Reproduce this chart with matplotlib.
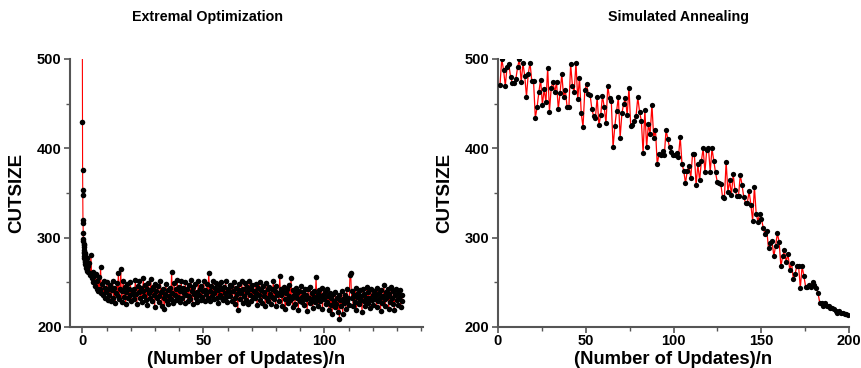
import numpy as np
import matplotlib
matplotlib.use("Agg")
import matplotlib.pyplot as plt
from matplotlib.ticker import MultipleLocator

plt.rcParams['font.family'] = ['Liberation Sans', 'DejaVu Sans']
plt.rcParams['font.weight'] = 'bold'

# ---------------- Data ----------------
# Extremal Optimization: early rapid descent (fine sampling, step 0.05)
eo_early = [520, 430, 376, 353, 348, 320, 316, 305, 298, 296, 293,
            289, 283, 292, 280, 286, 277, 284, 279, 273, 282,
            276, 280, 271, 278, 274, 283, 270, 276, 268, 275,
            272, 266, 274, 269, 277, 265, 271, 268, 263, 270]
eo_early_step = 0.05

# Extremal Optimization: main phase (step 1/3, starting at x=2.2)
eo_main = [
    268, 262, 272, 258, 281, 255, 262, 250, 257, 246, 259, 243, 252, 240, 256,
    243, 267, 238, 248, 236, 251, 233, 244, 239, 250, 230, 242,
    # x 11-20
    236, 247, 229, 241, 252, 233, 244, 227, 238, 249,
    235, 260, 231, 243, 265, 228, 240, 251, 234, 245,
    226, 239, 248, 232, 243, 236, 250, 229, 241, 237,
    # x 21-30
    242, 231, 253, 237, 226, 246, 239, 251, 232, 244,
    228, 240, 255, 235, 247, 230, 242, 225, 249, 238,
    233, 254, 241, 229, 245, 236, 222, 248, 240, 232,
    # x 31-40
    246, 235, 228, 251, 239, 224, 243, 232, 220, 237,
    248, 229, 241, 226, 235, 244, 231, 262, 238, 227,
    249, 236, 242, 230, 253, 234, 245, 228, 240, 251,
    # x 41-50
    233, 244, 238, 227, 250, 236, 242, 229, 247, 235,
    231, 253, 240, 226, 245, 237, 248, 232, 239, 228,
    251, 236, 243, 230, 246, 234, 240, 252, 229, 241,
    # x 51-60
    237, 248, 232, 261, 240, 229, 246, 235, 252, 238,
    231, 244, 249, 233, 241, 227, 247, 236, 250, 232,
    242, 230, 245, 238, 251, 234, 228, 243, 239, 247,
    # x 61-70
    235, 246, 229, 240, 250, 233, 226, 244, 237, 219,
    241, 248, 231, 238, 252, 227, 243, 235, 249, 230,
    239, 245, 226, 251, 236, 242, 229, 247, 234, 240,
    # x 71-80
    232, 248, 238, 225, 244, 236, 250, 230, 241, 227,
    246, 235, 239, 224, 249, 233, 242, 229, 245, 237,
    226, 243, 234, 251, 231, 240, 223, 246, 236, 238,
    # x 81-90
    229, 257, 236, 242, 224, 239, 245, 231, 220, 238,
    243, 227, 235, 247, 230, 255, 233, 222, 241, 236,
    226, 244, 232, 238, 219, 240, 229, 246, 234, 228,
    # x 91-100
    239, 225, 243, 231, 236, 218, 242, 233, 227, 245,
    230, 238, 221, 240, 234, 228, 256, 232, 237, 223,
    241, 229, 235, 244, 220, 236, 231, 239, 226, 242,
    # x 101-110
    228, 235, 219, 238, 225, 232, 214, 237, 229, 222,
    239, 226, 233, 217, 236, 209, 230, 224, 240, 215,
    231, 227, 236, 220, 242, 229, 233, 225, 258, 261,
    # x 111-120
    232, 240, 223, 236, 228, 244, 219, 234, 238, 226,
    241, 230, 235, 217, 243, 229, 237, 224, 232, 245,
    227, 239, 233, 221, 242, 230, 236, 225, 240, 231,
    # x 121-130
    236, 222, 244, 229, 238, 233, 218, 241, 227, 235,
    247, 231, 224, 239, 234, 243, 220, 237, 228, 245,
    232, 226, 240, 219, 236, 242, 230, 225, 238, 233,
    # x 131-132
    241, 222, 236, 229,
]
eo_main_start = 2.2
eo_main_step = 1.0 / 3.0

# Simulated Annealing (one sample per update unit, x = 1..198)
sa_values = [
    471, 500, 488, 470, 491, 494, 480, 473, 473, 478,
    491, 500, 474, 495, 481, 458, 483, 496, 475, 475,
    434, 446, 463, 477, 449, 466, 452, 490, 441, 468,
    474, 463, 474, 444, 462, 483, 458, 465, 446, 446,
    494, 470, 463, 496, 455, 479, 439, 424, 465, 472,
    461, 460, 444, 436, 434, 457, 426, 437, 459, 446,
    428, 470, 456, 453, 401, 425, 442, 457, 412, 439,
    450, 456, 437, 468, 425, 426, 431, 436, 457, 441,
    431, 395, 443, 401, 427, 416, 449, 412, 421, 382,
    394, 392, 397, 392, 421, 410, 401, 396, 392, 393,
    395, 390, 413, 383, 375, 361, 375, 380, 367, 394,
    394, 359, 382, 364, 386, 400, 373, 398, 400, 374,
    400, 386, 373, 362, 361, 360, 345, 344, 385, 351,
    364, 348, 371, 353, 347, 347, 370, 359, 345, 339,
    339, 352, 337, 319, 357, 327, 318, 327, 321, 311,
    304, 308, 288, 294, 296, 279, 291, 305, 295, 268,
    279, 286, 273, 282, 264, 272, 254, 259, 268, 268,
    244, 268, 257, 245, 245, 247, 245, 250, 247, 244,
    238, 227, 227, 223, 227, 224, 223, 221, 221, 220,
    218, 216, 218, 216, 216, 215, 214, 213,
]
sa_start = 1.3
sa_step = 1.005

titles = ["Extremal Optimization", "Simulated Annealing"]
xlabel = "(Number of Updates)/n"
ylabel = "CUTSIZE"

# ---------------- Figure ----------------
W, H = 861, 368
fig = plt.figure(figsize=(W / 100, H / 100), dpi=100)

def frac_box(x0, x1, ytop, ybot):
    return [x0 / W, 1 - ybot / H, (x1 - x0) / W, (ybot - ytop) / H]

ax1 = fig.add_axes(frac_box(70, 422.7, 59, 327))
ax2 = fig.add_axes(frac_box(497.7, 849.3, 59, 327))

eo_x = np.concatenate([np.arange(len(eo_early)) * eo_early_step,
                       eo_main_start + np.arange(len(eo_main)) * eo_main_step])
eo_y = np.array(eo_early + eo_main, dtype=float)
ax1.plot(eo_x, eo_y, color='red', lw=0.8, zorder=2)
ax1.plot(eo_x, eo_y, ls='none', marker='o', ms=4.0, color='black',
         markeredgewidth=0, zorder=3)

sa_x = sa_start + np.arange(len(sa_values)) * sa_step
ax2.plot(sa_x, sa_values, color='red', lw=0.9, zorder=2)
ax2.plot(sa_x, sa_values, ls='none', marker='o', ms=3.8, color='black',
         markeredgewidth=0, zorder=3)

spine_col = '#555555'
for ax in (ax1, ax2):
    ax.set_ylim(200, 500)
    for s in ('top', 'right'):
        ax.spines[s].set_visible(False)
    for s in ('left', 'bottom'):
        ax.spines[s].set_color(spine_col)
        ax.spines[s].set_linewidth(1.5)
    ax.yaxis.set_major_locator(MultipleLocator(100))
    ax.yaxis.set_minor_locator(MultipleLocator(50))
    ax.tick_params(which='major', direction='out', length=4, width=1.2,
                   color=spine_col, labelsize=10.5, pad=2)
    ax.tick_params(axis='x', which='major', pad=1)
    ax.tick_params(which='minor', direction='out', length=3, width=1.0,
                   color=spine_col)
    for lab in ax.get_xticklabels() + ax.get_yticklabels():
        lab.set_fontweight('bold')

ax1.set_xlim(-5.1, 140.6)
ax1.xaxis.set_major_locator(MultipleLocator(50))
ax1.xaxis.set_minor_locator(MultipleLocator(10))

ax2.set_xlim(0, 200)
ax2.xaxis.set_major_locator(MultipleLocator(50))
ax2.xaxis.set_minor_locator(MultipleLocator(25))

# titles and axis labels
fig.text(207 / W, 1 - 17 / H, titles[0], ha='center', va='center',
         fontsize=10.3, fontweight='bold')
fig.text(679 / W, 1 - 17 / H, titles[1], ha='center', va='center',
         fontsize=10.3, fontweight='bold')
for xc in (246 / W, 673 / W):
    fig.text(xc, 1 - 359.5 / H, xlabel, ha='center', va='center',
             fontsize=13.2, fontweight='bold')
for xc in (17 / W, 445 / W):
    fig.text(xc, 1 - 193 / H, ylabel, ha='center', va='center',
             rotation=90, fontsize=13.5, fontweight='bold')

fig.savefig("out.png", dpi=100)
